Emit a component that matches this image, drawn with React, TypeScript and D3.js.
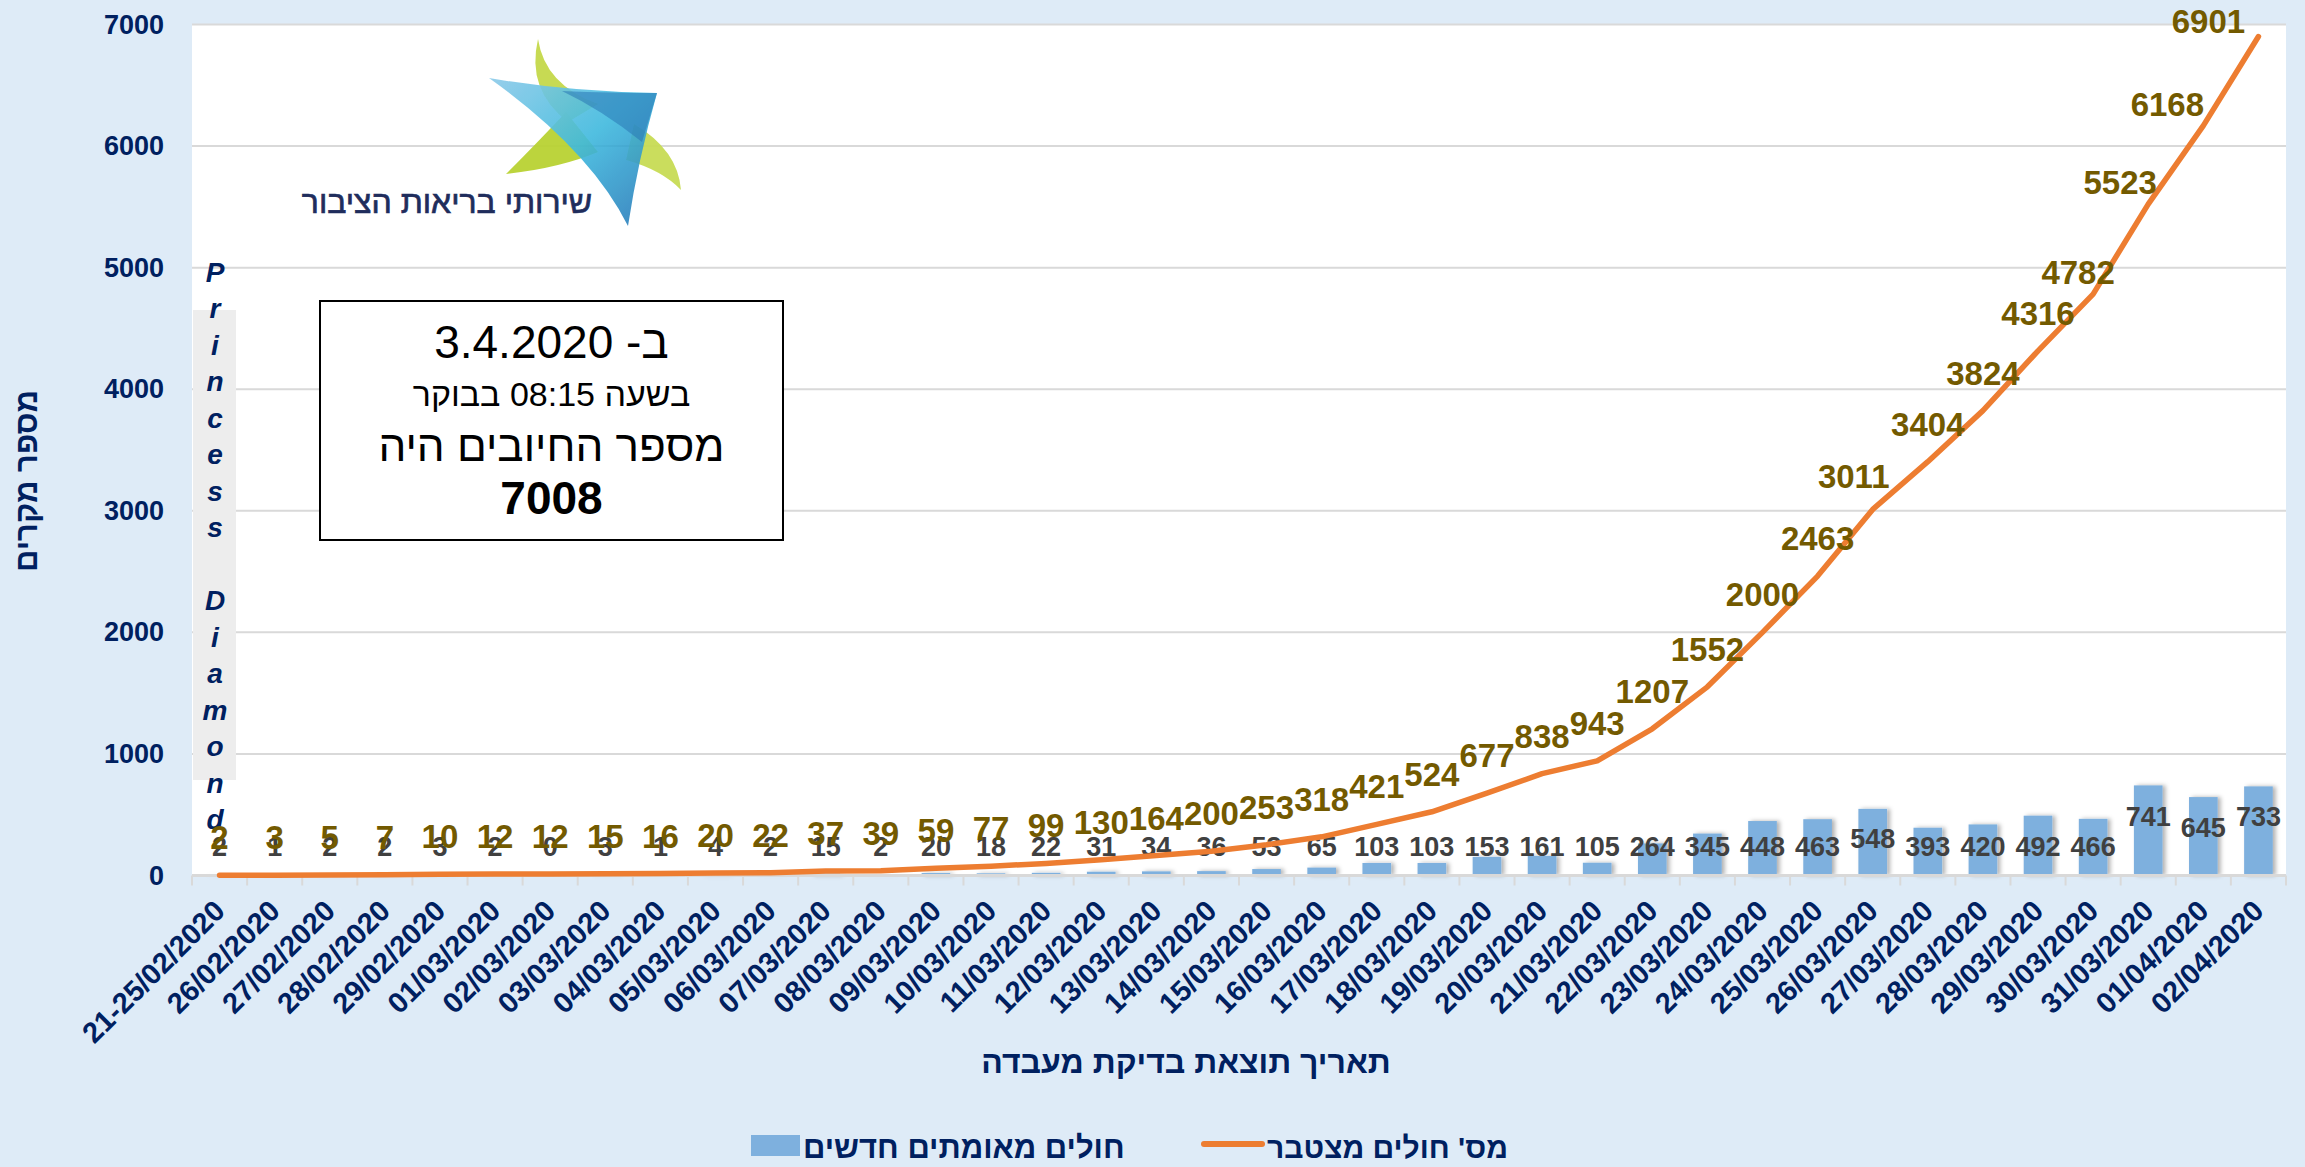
import React from 'react';
import * as d3 from 'd3';

// data
const categories = [
  '21-25/02/2020', '26/02/2020', '27/02/2020', '28/02/2020', '29/02/2020',
  '01/03/2020', '02/03/2020', '03/03/2020', '04/03/2020', '05/03/2020',
  '06/03/2020', '07/03/2020', '08/03/2020', '09/03/2020', '10/03/2020',
  '11/03/2020', '12/03/2020', '13/03/2020', '14/03/2020', '15/03/2020',
  '16/03/2020', '17/03/2020', '18/03/2020', '19/03/2020', '20/03/2020',
  '21/03/2020', '22/03/2020', '23/03/2020', '24/03/2020', '25/03/2020',
  '26/03/2020', '27/03/2020', '28/03/2020', '29/03/2020', '30/03/2020',
  '31/03/2020', '01/04/2020', '02/04/2020',
];
const newCases = [
  2, 1, 2, 2, 3, 2, 0, 3, 1, 4, 2, 15, 2, 20, 18, 22, 31, 34, 36, 53,
  65, 103, 103, 153, 161, 105, 264, 345, 448, 463, 548, 393, 420, 492, 466, 741, 645, 733,
];
const cumulative = [
  2, 3, 5, 7, 10, 12, 12, 15, 16, 20, 22, 37, 39, 59, 77, 99, 130, 164, 200, 253,
  318, 421, 524, 677, 838, 943, 1207, 1552, 2000, 2463, 3011, 3404, 3824, 4316, 4782, 5523, 6168, 6901,
];
const yTicks = [0, 1000, 2000, 3000, 4000, 5000, 6000, 7000];

const barSeriesName = 'חולים מאומתים חדשים';
const lineSeriesName = "מס' חולים מצטבר";
const yTitle = 'מספר מקרים';
const xTitle = 'תאריך תוצאת בדיקת מעבדה';
const logoText = 'שירותי בריאות הציבור';
const watermark = 'Princess Diamond';
const boxLines = ['ב- 3.4.2020', 'בשעה 08:15 בבוקר', 'מספר החיובים היה', '7008'];

// labels that were dragged by hand in the original
const lineLabelNudge: Record<number, [number, number]> = {
  30: [-19, 5], 34: [-15, 16], 35: [-28, 16], 36: [-36, 16], 37: [-50, 22],
};
const barLabelNudge: Record<number, number> = { 30: -8, 35: -30, 36: -19, 37: -30 };

const W = 2305;
const H = 1167;
const margin = { left: 192, right: W - 2286, top: 24.5, bottom: H - 875.5 };
const font = '"Liberation Sans", Arial, sans-serif';
const navy = '#002060';

export default function App() {
  const x = d3.scaleBand()
    .domain(categories)
    .range([margin.left, W - margin.right])
    .paddingInner(0.48)
    .paddingOuter(0.24);

  const y = d3.scaleLinear()
    .domain([0, 7000])
    .range([H - margin.bottom, margin.top]);

  const cx = (c: string) => (x(c) as number) + x.bandwidth() / 2;
  const step = x.step();
  const boundaries = categories.map(c => cx(c) - step / 2).concat([cx(categories[categories.length - 1]) + step / 2]);

  const line = d3.line<number>()
    .x((d, i) => cx(categories[i]))
    .y(d => y(d))
    .curve(d3.curveLinear);

  const y0 = y(0);

  return (
    <>
      <style>{'body{margin:0;overflow:hidden}'}</style>
      <svg width={W} height={H} viewBox={`0 0 ${W} ${H}`} style={{ display: 'block', fontFamily: font }}>
        <defs>
          <filter id="barShadow" x="-30%" y="-10%" width="160%" height="120%">
            <feDropShadow dx="3" dy="0" stdDeviation="2" floodColor="#000" floodOpacity="0.3" />
          </filter>
          <linearGradient id="logoBlue" x1="0" y1="0" x2="1" y2="1">
            <stop offset="0%" stopColor="#86c8e8" />
            <stop offset="50%" stopColor="#35b6dd" />
            <stop offset="100%" stopColor="#1b6fb3" />
          </linearGradient>
        </defs>

        <rect x={0} y={0} width={W} height={H} fill="#DEEBF7" />
        <rect x={margin.left} y={margin.top} width={W - margin.left - margin.right}
          height={y0 - margin.top} fill="#fff" />

        {/* gridlines */}
        {yTicks.filter(t => t > 0).map(t => (
          <line key={t} x1={margin.left} x2={W - margin.right} y1={y(t)} y2={y(t)}
            stroke="#D9D9D9" strokeWidth={2} />
        ))}

        {/* logo */}
        <g opacity={0.95}>
          <path d="M538,39 Q545,85 598,104 L568,122 Q526,90 538,39 Z" fill="#c5d94a" />
          <path d="M634,124 Q678,150 681,190 Q662,170 626,160 Z" fill="#c8dc55" />
          <path d="M506,174 Q538,142 566,112 L598,152 Q560,168 506,174 Z" fill="#b9d233" />
          <path d="M489,78 Q570,92 657,93 Q638,160 628,226 Q590,150 489,78 Z" fill="url(#logoBlue)" opacity={0.9} />
          <path d="M562,91 Q612,93 657,93 L642,142 Q602,110 562,91 Z" fill="#1d6fb0" opacity={0.55} />
        </g>
        <text x={447} y={202} textAnchor="middle" dominantBaseline="central"
          fontSize={32} fill="#1f2d5c" stroke="#1f2d5c" strokeWidth={0.7}>{logoText}</text>

        {/* watermark column */}
        <rect x={193} y={310} width={43} height={470} fill="#EDEDED" />
        {watermark.split('').map((ch, i) => (
          <text key={i} x={215} y={272 + i * 36.5} textAnchor="middle" dominantBaseline="central"
            fontSize={28} fontWeight="bold" fontStyle="italic" fill={navy}>{ch}</text>
        ))}

        {/* info box */}
        <rect x={320} y={301} width={463} height={239} fill="#fff" stroke="#000" strokeWidth={2} />
        <g fill="#000" textAnchor="middle" direction="rtl">
          <text x={551.5} y={342} dominantBaseline="central" fontSize={46}>{boxLines[0]}</text>
          <text x={551.5} y={394} dominantBaseline="central" fontSize={34}>{boxLines[1]}</text>
          <text x={551.5} y={445} dominantBaseline="central" fontSize={44}>{boxLines[2]}</text>
          <text x={551.5} y={498} dominantBaseline="central" fontSize={46} fontWeight="bold">{boxLines[3]}</text>
        </g>

        {/* bars */}
        <g filter="url(#barShadow)">
          {newCases.map((v, i) => (
            <rect key={i} x={x(categories[i])} y={y(v)} width={x.bandwidth()}
              height={y0 - y(v)} fill="#7EB0DE" />
          ))}
        </g>

        {/* axis */}
        <line x1={margin.left} x2={W - margin.right} y1={y0} y2={y0} stroke="#D9D9D9" strokeWidth={3} />
        {boundaries.map((b, i) => (
          <line key={i} x1={b} x2={b} y1={y0} y2={y0 + 10} stroke="#D9D9D9" strokeWidth={2} />
        ))}

        {/* bar labels */}
        {newCases.map((v, i) => (
          <text key={i} x={cx(categories[i])} y={y0 - 28.5 + (barLabelNudge[i] || 0)}
            textAnchor="middle" dominantBaseline="central" fontSize={27} fontWeight="bold"
            fill="#404040">{v}</text>
        ))}

        {/* cumulative line */}
        <path d={line(cumulative) || ''} fill="none" stroke="#ED7D31" strokeWidth={5.5}
          strokeLinejoin="round" strokeLinecap="round" />
        {cumulative.map((v, i) => {
          const n = lineLabelNudge[i] || [0, 0];
          return (
            <text key={i} x={cx(categories[i]) + n[0]} y={y(v) - 37.5 + n[1]}
              textAnchor="middle" dominantBaseline="central" fontSize={33} fontWeight="bold"
              fill="#735A00">{v}</text>
          );
        })}

        {/* y axis labels */}
        {yTicks.map(t => (
          <text key={t} x={164} y={y(t)} textAnchor="end" dominantBaseline="central"
            fontSize={27} fontWeight="bold" fill={navy}>{t}</text>
        ))}

        {/* x axis labels */}
        {categories.map(c => (
          <text key={c} transform={`translate(${cx(c)},${y0 + 30}) rotate(-45)`} textAnchor="end"
            dominantBaseline="central" fontSize={29} fontWeight="bold" fill={navy}>{c}</text>
        ))}

        {/* titles */}
        <text transform={`translate(26,481) rotate(-90)`} textAnchor="middle" dominantBaseline="central"
          fontSize={31} fontWeight="bold" fill={navy}>{yTitle}</text>
        <text x={1186} y={1062} textAnchor="middle" dominantBaseline="central"
          fontSize={32} fontWeight="bold" fill={navy}>{xTitle}</text>

        {/* legend */}
        <rect x={751} y={1135} width={49} height={21} fill="#7EB0DE" />
        <text x={803} y={1147} dominantBaseline="central" fontSize={31} fontWeight="bold" fill={navy}>{barSeriesName}</text>
        <line x1={1204} x2={1262} y1={1144} y2={1144} stroke="#ED7D31" strokeWidth={6} strokeLinecap="round" />
        <text x={1267} y={1147} dominantBaseline="central" fontSize={30} fontWeight="bold" fill={navy}>{lineSeriesName}</text>
      </svg>
    </>
  );
}
